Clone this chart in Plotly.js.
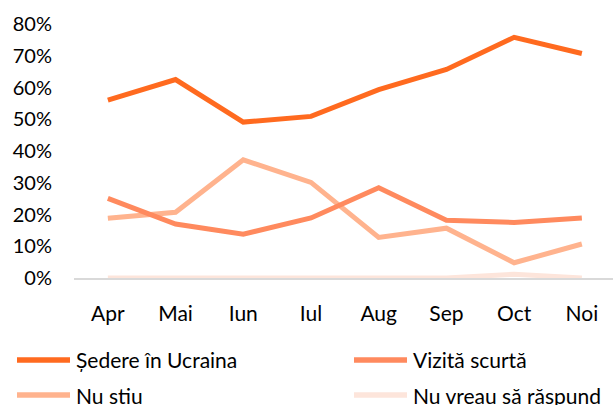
<!DOCTYPE html>
<html><head><meta charset="utf-8">
<script src="https://cdn.plot.ly/plotly-3.0.1.min.js"></script>
<style>html,body{margin:0;padding:0;background:#fff}</style>
</head><body>
<div id="chart" style="width:613px;height:405px"></div>
<script>
const months = ["Apr","Mai","Iun","Iul","Aug","Sep","Oct","Noi"];
const sedere = [0.560,0.625,0.491,0.509,0.593,0.657,0.758,0.707];
const vizita = [0.251,0.170,0.138,0.189,0.284,0.182,0.175,0.189];
const nuStiu = [0.188,0.207,0.372,0.301,0.128,0.157,0.048,0.107];
const nuVreau = [0.0,0.0,0.0,0.0,0.0,0.0,0.012,0.0];
const names = ["Ședere în Ucraina","Vizită scurtă","Nu știu","Nu vreau să răspund"];
const colors = ["#FF6A1F","#FF8A5E","#FFB38E","#FDE5DB"];
const series = [sedere, vizita, nuStiu, nuVreau];
const traces = series.map((s,i)=>({
  x: months, y: s, name: names[i], type:"scatter", mode:"lines",
  line:{color:colors[i], width:5}, showlegend:false, cliponaxis:false
}));
traces.reverse();
const fam = "Lato, 'Open Sans', sans-serif";
const W = 613, H = 405, L = 74, T = 24, B = 127, R = 0;
const ph = H - T - B, pw = W - L - R;
function py(pix){ return (H - B - pix)/ph; }
function px(pix){ return (pix - L)/pw; }
const layout = {
  width:W, height:H,
  margin:{l:L, r:R, t:T, b:B},
  paper_bgcolor:"#fff", plot_bgcolor:"#fff",
  font:{family:fam, size:20, color:"#000"},
  showlegend:false,
  xaxis:{type:"category", range:[-0.5,7.46], showgrid:false, zeroline:false, showline:true,
         linecolor:"#d9d9d9", linewidth:2, ticks:"", tickfont:{family:fam,size:21,color:"#000"},
         ticklabelstandoff:16},
  yaxis:{range:[0,0.8], tickformat:".0%", dtick:0.1, showgrid:false,
         zeroline:false, showline:false, ticks:"", tickfont:{family:fam,size:20,color:"#000"},
         ticklabelstandoff:21},
  shapes:[], annotations:[]
};
// manual legend (2 columns x 2 rows)
const legPos = [[15,360],[352,360],[15,395],[352,395]];
names.forEach((n,i)=>{
  const [lx,ly] = legPos[i];
  layout.shapes.push({type:"line", xref:"paper", yref:"paper",
    x0:px(lx+2), x1:px(lx+55), y0:py(ly), y1:py(ly),
    line:{color:colors[i], width:5.5}});
  layout.annotations.push({xref:"paper", yref:"paper", x:px(lx+59), y:py(ly),
    xanchor:"left", yanchor:"middle", text:n, showarrow:false,
    font:{family:fam, size:21, color:"#000"}});
});
Plotly.newPlot("chart", traces, layout, {displayModeBar:false});
</script>
</body></html>
